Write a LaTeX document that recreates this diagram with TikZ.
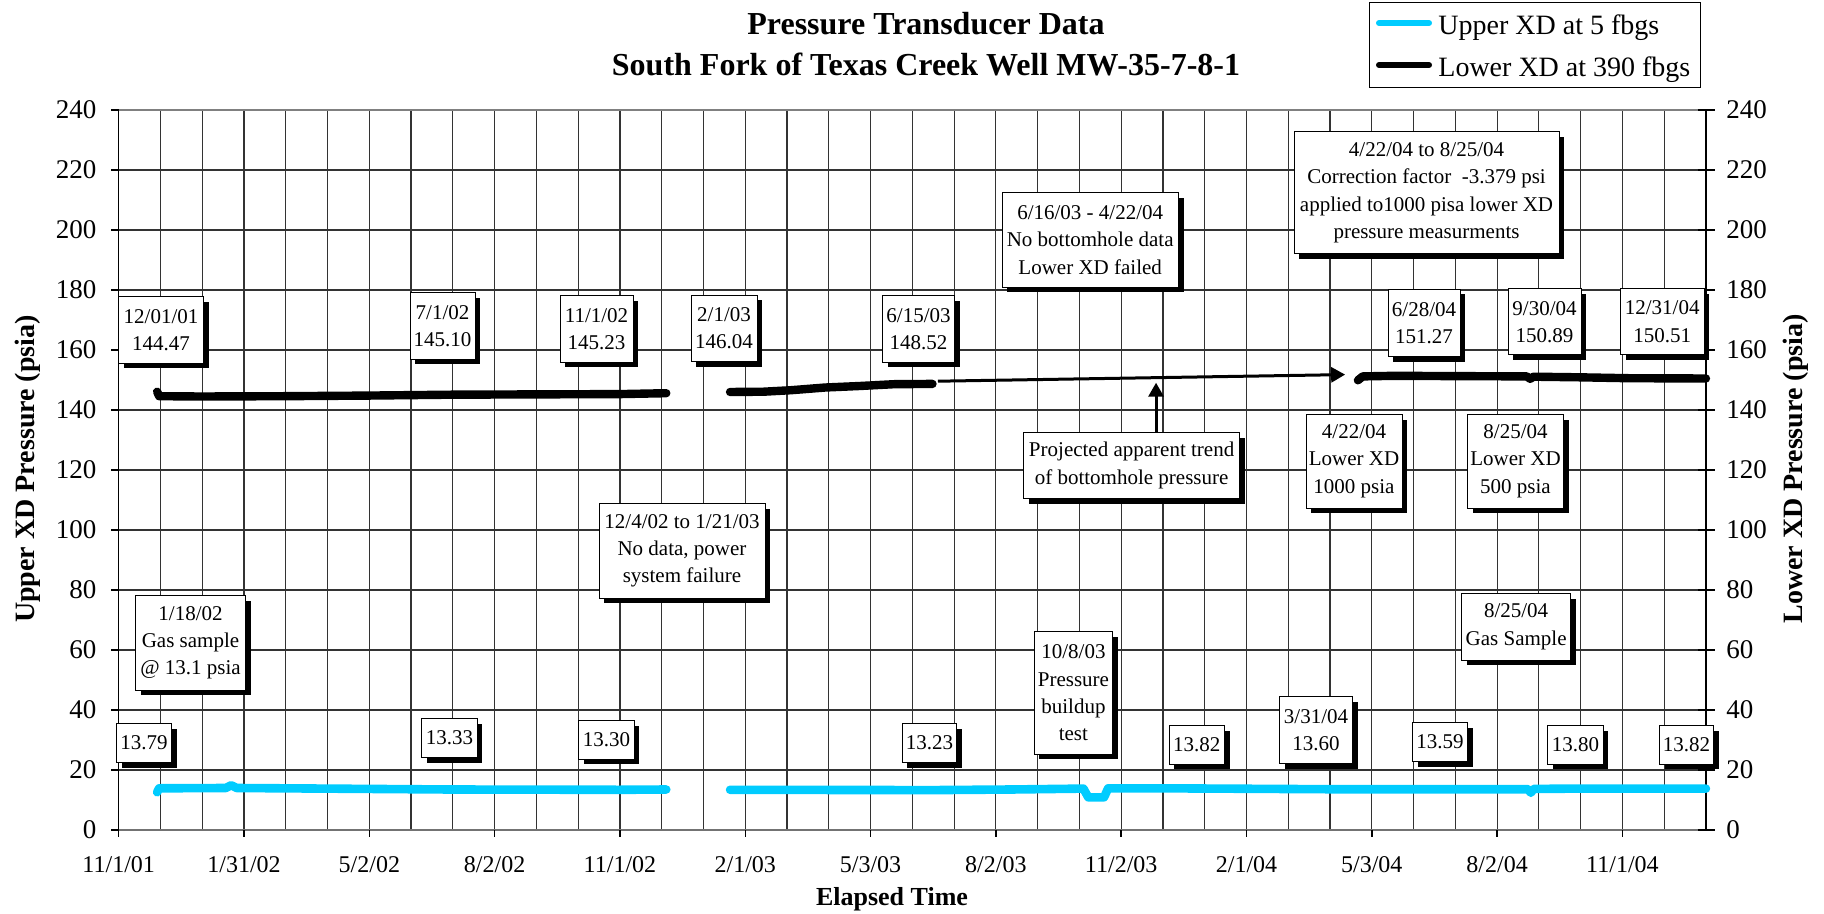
\documentclass[tikz,border=0pt]{standalone}
\usepackage{fontspec}
\setmainfont{Liberation Serif}
\usetikzlibrary{arrows.meta,shadows,calc}
\definecolor{xdcyan}{RGB}{0,204,255}
\newcommand{\boxfont}{\fontsize{10.5}{13.6}\selectfont}
\tikzset{
    callout/.style = {draw, fill=white, rectangle, line width=0.5pt,
        inner sep=0pt, align=center, font=\boxfont,
        drop shadow={shadow xshift=2.6pt, shadow yshift=-2.6pt, fill=black, opacity=1}},
    gridline/.style = {draw=black!80, line width=0.6pt},
    axisline/.style = {draw=black, line width=0.7pt},
    upperxd/.style = {draw=xdcyan, line width=4.3pt, line cap=round, line join=round},
    lowerxd/.style = {draw=black, line width=4.2pt, line cap=round, line join=round},
    trend/.style = {draw, line width=1.5pt, -{Triangle[length=7pt,width=7.5pt]}},
    ytick/.style = {font=\fontsize{13.5}{16}\selectfont, inner sep=0pt},
    xtick/.style = {font=\fontsize{12}{14}\selectfont, inner sep=0pt, anchor=base},
    axistitle/.style = {font=\fontsize{14}{16}\selectfont\bfseries, inner sep=0pt},
    charttitle/.style = {font=\fontsize{16}{19}\selectfont\bfseries, inner sep=0pt, anchor=base},
    legendtext/.style = {font=\fontsize{14}{16}\selectfont, inner sep=0pt, anchor=base west}
}

\begin{document}
\begin{tikzpicture}[x=0.5pt, y=-0.5pt]
    \useasboundingbox (0,0) rectangle (1824,914);
    % titles
    \node[charttitle] (title1) at (926,35) {Pressure Transducer Data};
    \node[charttitle] (title2) at (926,76) {South Fork of Texas Creek Well MW-35-7-8-1};

    % plot area: days since 11/1/01 against psia
    \begin{scope}[shift={(118.7,830)}, x=0.68615pt, y=1.5pt]
        \foreach \i in {1,...,37}
            \draw[gridline] (\i*30.4375,0) -- (\i*30.4375,240);
        \foreach \v in {20,40,...,220}
            \draw[gridline] (0,\v) -- (1156.6,\v);
        \draw[draw=black!50, line width=1pt] (0,240) -- (1156.6,240);
        \draw[draw=black!55, line width=1.1pt] (0,0) -- (1156.6,0);
        \draw[axisline] (0,0) -- (0,240);
        \draw[axisline] (1156.6,0) -- (1156.6,240);
        \foreach \v in {0,20,...,240} {
            \draw[axisline] (0,\v) -- ++(-4pt,0);
            \draw[axisline] (1156.6,\v) ++(-4pt,0) -- ++(8.5pt,0);
            \node[ytick, anchor=east, xshift=-11pt] (yl\v) at (0,\v) {\v};
            \node[ytick, anchor=west, xshift=10pt] (yr\v) at (1156.6,\v) {\v};
        }
        \foreach \lab [count=\k from 0] in {11/1/01,1/31/02,5/2/02,8/2/02,11/1/02,2/1/03,5/3/03,8/2/03,11/2/03,2/1/04,5/3/04,8/2/04,11/1/04} {
            \draw[axisline] (\k*91.3125,0) -- ++(0,-3.5pt);
            \node[xtick] (xl\k) at (\k*91.3125,-14) {\lab};
        }

        % lower XD
        \draw[lowerxd] (28,146.1) -- (29.5,144.6) -- (60,144.5) -- (120,144.6) -- (180,144.8)
            -- (242,145.1) -- (300,145.2) -- (365,145.3) -- (399,145.6);
        \draw[lowerxd] (445.5,146.0) -- (470,146.1) -- (490,146.6) -- (515,147.5) -- (540,148.0)
            -- (565,148.6) -- (593,148.7);
        \draw[lowerxd] (903,149.9) -- (906.5,151.2) -- (930,151.4) -- (970,151.3) -- (1026,151.2)
            -- (1028.5,150.4) -- (1031,151.1) -- (1064,150.9) -- (1100,150.6) -- (1156.6,150.5);
        % upper XD
        \draw[upperxd] (28,12.6) -- (29.5,13.9) -- (78,14.0) -- (82,14.9) -- (86,14.0) -- (150,13.8)
            -- (242,13.5) -- (365,13.4) -- (399,13.5);
        \draw[upperxd] (445.5,13.4) -- (593,13.3) -- (650,13.5) -- (703,13.8) -- (706.5,10.9)
            -- (718,10.9) -- (721,13.9) -- (760,13.9) -- (880,13.6) -- (1027,13.6) -- (1029,12.4)
            -- (1031,13.7) -- (1064,13.8) -- (1156.6,13.8);

        \coordinate (gapstart) at (597,149.6);
        \coordinate (gapend) at (893.7,151.8);
        \coordinate (trendpt) at (755.9,149.1);
    \end{scope}

    % callouts, lower XD
    \node[callout, minimum width=42.5pt, minimum height=33.3pt] (low1201) at (161,330) {12/01/01\\144.47};
    \node[callout, minimum width=32.5pt, minimum height=33.3pt] (low0701) at (442.5,326) {7/1/02\\145.10};
    \node[callout, minimum width=36.5pt, minimum height=33.3pt] (low1101) at (596.5,329) {11/1/02\\145.23};
    \node[callout, minimum width=33pt, minimum height=33.2pt] (low0201) at (724,328.5) {2/1/03\\146.04};
    \node[callout, minimum width=36pt, minimum height=33.3pt] (low0615) at (918.5,329) {6/15/03\\148.52};
    \node[callout, minimum width=88.2pt, minimum height=47.3pt] (nobottom) at (1090.2,240) {6/16/03 - 4/22/04\\No bottomhole data\\Lower XD failed};
    \node[callout, minimum width=132.5pt, minimum height=61.2pt] (correction) at (1426.5,192.8) {4/22/04 to 8/25/04\\Correction factor~ -3.379 psi\\applied to1000 pisa lower XD\\pressure measurments};
    \node[callout, minimum width=36pt, minimum height=33.7pt] (low0628) at (1424,323) {6/28/04\\151.27};
    \node[callout, minimum width=36.5pt, minimum height=33.2pt] (low0930) at (1544.5,321.8) {9/30/04\\150.89};
    \node[callout, minimum width=41.8pt, minimum height=33.3pt] (low1231) at (1662.2,321.7) {12/31/04\\150.51};
    \node[callout, minimum width=107.9pt, minimum height=33.2pt] (trendbox) at (1131.6,465.5) {Projected apparent trend\\of bottomhole pressure};
    \node[callout, minimum width=48pt, minimum height=46.8pt] (xd1000) at (1354,461.2) {4/22/04\\Lower XD\\1000 psia};
    \node[callout, minimum width=48pt, minimum height=46.8pt] (xd500) at (1515.5,461.2) {8/25/04\\Lower XD\\500 psia};
    \node[callout, minimum width=83pt, minimum height=47.3pt] (nopower) at (682,550.7) {12/4/02 to 1/21/03\\No data, power\\system failure};

    % callouts, upper XD
    \node[callout, minimum width=55pt, minimum height=47.2pt] (gas0118) at (190.5,642.8) {1/18/02\\Gas sample\\@ 13.1 psia};
    \node[callout, minimum width=27.7pt, minimum height=19.5pt] (up1201) at (144,742.8) {13.79};
    \node[callout, minimum width=27.6pt, minimum height=19.5pt] (up0701) at (449.4,737.8) {13.33};
    \node[callout, minimum width=27.6pt, minimum height=19.4pt] (up1101) at (606.4,739.7) {13.30};
    \node[callout, minimum width=27.3pt, minimum height=19.5pt] (up0615) at (929.5,742.8) {13.23};
    \node[callout, minimum width=39.4pt, minimum height=61.2pt] (buildup) at (1073.4,692.8) {10/8/03\\Pressure\\buildup\\test};
    \node[callout, minimum width=27.7pt, minimum height=19.2pt] (up1225) at (1196.7,744.8) {13.82};
    \node[callout, minimum width=36.4pt, minimum height=33.5pt] (up0331) at (1316,729.8) {3/31/04\\13.60};
    \node[callout, minimum width=27.7pt, minimum height=19.5pt] (up0628) at (1440,741.8) {13.59};
    \node[callout, minimum width=54.4pt, minimum height=33.4pt] (gas0825) at (1516.1,626.7) {8/25/04\\Gas Sample};
    \node[callout, minimum width=27.6pt, minimum height=19.2pt] (up0930) at (1575.4,744.8) {13.80};
    \node[callout, minimum width=27pt, minimum height=19.2pt] (up1231) at (1686.5,744.8) {13.82};

    % projected trend across the gap
    \draw[trend] (gapstart) -- (gapend);
    \draw[trend] (trendbox.north -| trendpt) -- (trendpt);

    % legend
    \node[draw, fill=white, line width=0.5pt, inner sep=0pt,
        minimum width=165.5pt, minimum height=42.5pt] (legend) at (1534.5,45.5) {};
    \node[legendtext] (uppertxt) at (1438,35) {Upper XD at 5 fbgs};
    \node[legendtext] (lowertxt) at (1438,76.7) {Lower XD at 390 fbgs};
    \draw[upperxd, line width=3pt] (1379,23) -- (1429,23);
    \draw[lowerxd, line width=3pt] (1379,65) -- (1429,65);

    % axis titles
    \node[axistitle, rotate=90] (ytitleL) at (28,469) {Upper XD Pressure (psia)};
    \node[axistitle, rotate=90] (ytitleR) at (1796,469) {Lower XD Pressure (psia)};
    \node[axistitle, font=\fontsize{13}{15}\selectfont\bfseries] (xtitle) at (892,899) {Elapsed Time};
\end{tikzpicture}
\end{document}
